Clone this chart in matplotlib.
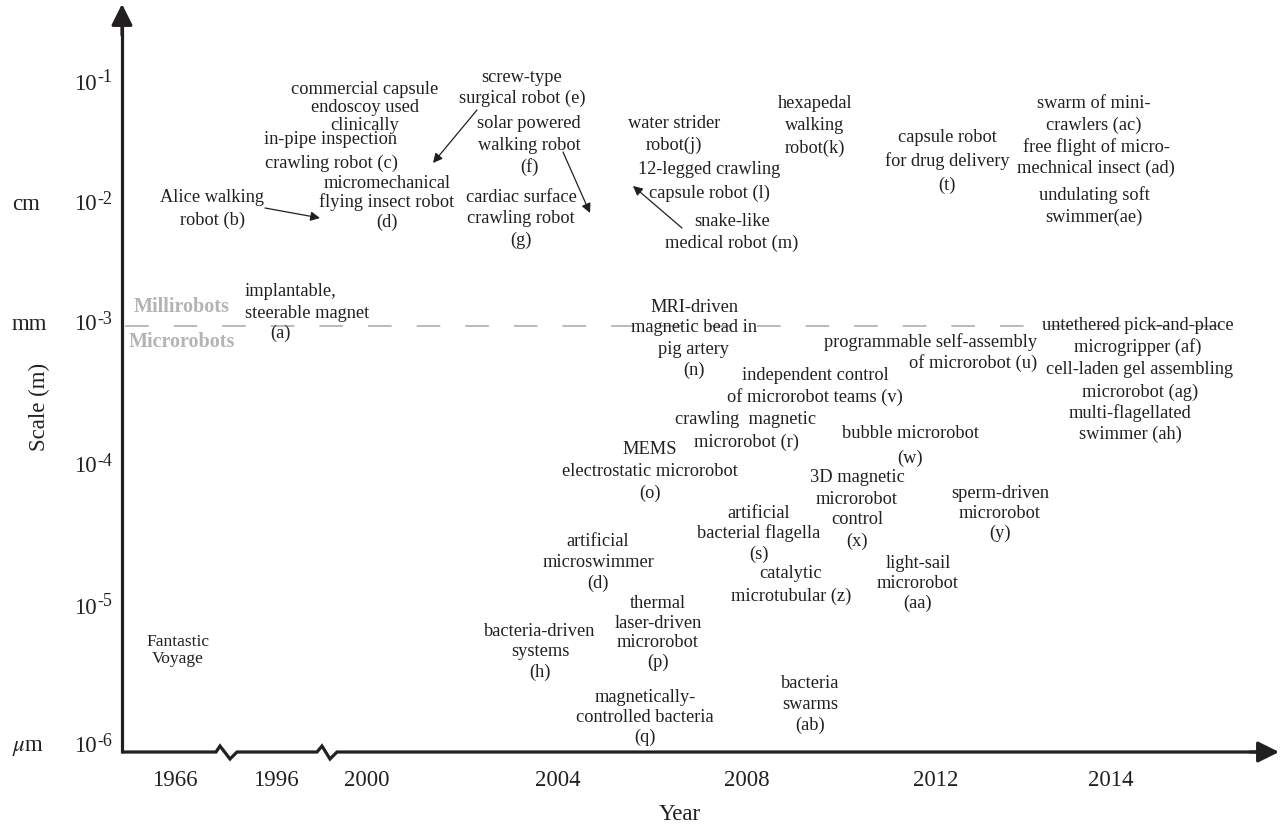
import numpy as np
import matplotlib.pyplot as plt

plt.rcParams['font.family'] = ['Liberation Serif', 'DejaVu Serif']
plt.rcParams['mathtext.fontset'] = 'stix'
plt.rcParams['lines.scale_dashes'] = False

ink = '#231f20'
grey = '#b4b4b4'

# broken time axis: year slots and where they sit
years = ['1966', '1996', '2000', '2004', '2008', '2012', '2014']
year_pos = [175, 276, 367, 558, 747, 936, 1111]

# scale levels (10^exp m) and their places on the vertical axis
exponents = ['-1', '-2', '-3', '-4', '-5', '-6']
exp_pos = [84, 205, 325, 467, 608, 747]
units = ['', 'cm', 'mm', '', '', r'$\mu$m']

# milestones: text, x, y first line, y last line, alignment
labels = [
    ('commercial capsule\nendoscoy used\nclinically', 365, 90, 125, 'center'),
    ('in-pipe inspection\ncrawling robot (c)', 331, 140, 163, 'center'),
    ('Alice walking\nrobot (b)', 212, 198, 220, 'center'),
    ('micromechanical\nflying insect robot\n(d)', 387, 183, 222, 'center'),
    ('screw-type\nsurgical robot (e)', 522, 77, 98, 'center'),
    ('solar powered\nwalking robot\n(f)', 529, 123, 167, 'center'),
    ('cardiac surface\ncrawling robot\n(g)', 521, 197, 240, 'center'),
    ('water strider\nrobot(j)', 674, 123, 145, 'center'),
    ('12-legged crawling\ncapsule robot (l)', 709, 170, 193, 'center'),
    ('snake-like\nmedical robot (m)', 732, 222, 243, 'center'),
    ('hexapedal\nwalking\nrobot(k)', 815, 103, 148, 'center'),
    ('capsule robot\nfor drug delivery\n(t)', 947, 138, 185, 'center'),
    ('swarm of mini-\ncrawlers (ac)', 1094, 103, 125, 'center'),
    ('free flight of micro-\nmechnical insect (ad)', 1096, 147, 168, 'center'),
    ('undulating soft\nswimmer(ae)', 1094, 195, 217, 'center'),
    ('implantable,\nsteerable magnet', 245, 292, 313, 'left'),
    ('(a)', 280, 333, 333, 'center'),
    ('MRI-driven\nmagnetic bead in\npig artery\n(n)', 694, 307, 370, 'center'),
    ('programmable self-assembly\nof microrobot (u)', 1037, 342, 363, 'right'),
    ('independent control\nof microrobot teams (v)', 815, 375, 397, 'center'),
    ('crawling  magnetic\nmicrorobot (r)', 746, 420, 442, 'center'),
    ('bubble microrobot\n(w)', 910, 434, 458, 'center'),
    ('MEMS\nelectrostatic microrobot\n(o)', 650, 450, 493, 'center'),
    ('untethered pick-and-place\nmicrogripper (af)', 1138, 325, 347, 'center'),
    ('cell-laden gel assembling\nmicrorobot (ag)', 1140, 370, 392, 'center'),
    ('multi-flagellated\nswimmer (ah)', 1130, 413, 434, 'center'),
    ('3D magnetic\nmicrorobot\ncontrol\n(x)', 857, 478, 541, 'center'),
    ('sperm-driven\nmicrorobot\n(y)', 1000, 493, 533, 'center'),
    ('artificial\nbacterial flagella\n(s)', 759, 513, 554, 'center'),
    ('artificial\nmicroswimmer\n(d)', 598, 542, 583, 'center'),
    ('catalytic\nmicrotubular (z)', 791, 574, 596, 'center'),
    ('light-sail\nmicrorobot\n(aa)', 918, 563, 603, 'center'),
    ('thermal\nlaser-driven\nmicrorobot\n(p)', 658, 604, 662, 'center'),
    ('bacteria-driven\nsystems\n(h)', 540, 632, 672, 'center'),
    ('magnetically-\ncontrolled bacteria\n(q)', 645, 697, 737, 'center'),
    ('bacteria\nswarms\n(ab)', 810, 684, 725, 'center'),
]

# pointer arrows (tail, head)
pointers = [((265, 208), (320, 218)),
            ((477, 110), (433, 163)),
            ((563, 152), (590, 213)),
            ((682, 228), (633, 186))]

fig = plt.figure(figsize=(12.84, 8.27), dpi=100)
ax = fig.add_axes([0, 0, 1, 1])
ax.set_xlim(0, 1284)
ax.set_ylim(827, 0)
ax.axis('off')

# axes with breaks
x0, y0 = 122, 752
bx = [x0, 216, 220, 230, 237, 317, 322, 330, 337, 1262]
by = [y0, y0, 746, 759, y0, y0, 746, 759, y0, y0]
ax.plot(bx, by, color=ink, lw=2.3, solid_joinstyle='miter', solid_capstyle='butt')
ax.plot([x0, x0], [y0 + 1, 22], color=ink, lw=2.3, solid_capstyle='butt')
ax.annotate('', xy=(1279, y0), xytext=(1250, y0),
            arrowprops=dict(arrowstyle='-|>', mutation_scale=32, lw=2.3,
                            color=ink, shrinkA=0, shrinkB=0))
ax.annotate('', xy=(x0, 4), xytext=(x0, 35),
            arrowprops=dict(arrowstyle='-|>', mutation_scale=32, lw=2.3,
                            color=ink, shrinkA=0, shrinkB=0))

# millirobot / microrobot boundary
ax.plot([125, 1235], [326, 326], color=grey, lw=1.3, dashes=(17, 18), zorder=1)
ax.text(182, 307, 'Millirobots', ha='center', va='center', fontsize=14.5,
        fontweight='bold', color=grey)
ax.text(182, 342, 'Microrobots', ha='center', va='center', fontsize=14.5,
        fontweight='bold', color=grey)

# tick labels
for lab, x in zip(years, year_pos):
    ax.text(x, 780, lab, ha='center', va='center', fontsize=16.5, color=ink)
for e, y, u in zip(exponents, exp_pos, units):
    ax.text(97, y, '10', ha='right', va='center', fontsize=16.5, color=ink)
    ax.text(97, y - 6, e, ha='left', va='center', fontsize=13, color=ink)
    if u:
        ax.text(12, y, u, ha='left', va='center', fontsize=16.5, color=ink)

ax.text(680, 815, 'Year', ha='center', va='center', fontsize=16.5, color=ink)
ax.text(39, 407, 'Scale (m)', ha='center', va='center', rotation=90,
        fontsize=16.5, color=ink)

# milestones
for text, x, ya, yb, ha in labels:
    lines = text.split('\n')
    for line, y in zip(lines, np.linspace(ya, yb, len(lines))):
        ax.text(x, y, line, ha=ha, va='center', fontsize=13.2, color=ink, zorder=3)

ax.text(178, 642, 'Fantastic', ha='center', va='center', fontsize=12.5, color=ink)
ax.text(178, 659, 'Voyage', ha='center', va='center', fontsize=12.5, color=ink)

for tail, head in pointers:
    ax.annotate('', xy=head, xytext=tail,
                arrowprops=dict(arrowstyle='-|>', mutation_scale=14, lw=0.9,
                                color=ink, shrinkA=0, shrinkB=0))

fig.savefig('out.png', dpi=100)
